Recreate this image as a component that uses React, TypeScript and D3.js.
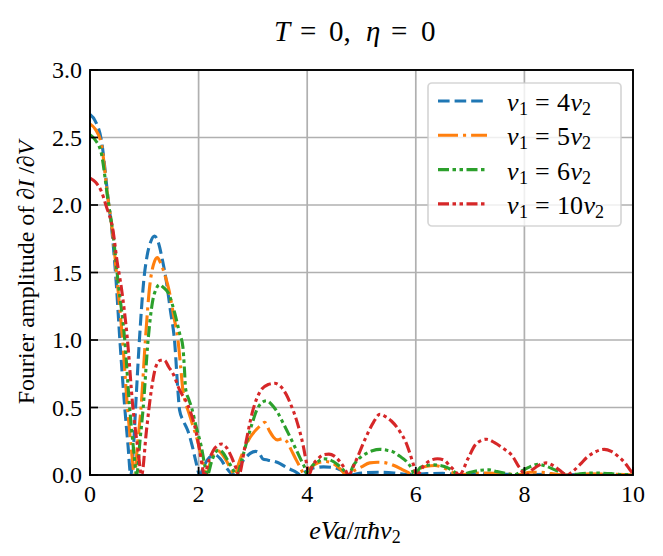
import * as d3 from "d3"

type Pt = [number, number]

// curves, [x, amplitude]
const seriesV4: Pt[] = [[0,2.67],[0.1,2.62],[0.21,2.48],[0.33,2.06],[0.42,1.74],[0.48,1.44],[0.55,1.0],[0.64,0.5],[0.7,0.22],[0.75,0],[0.8,0.2],[0.84,0.5],[0.91,1.0],[0.99,1.44],[1.05,1.62],[1.12,1.73],[1.19,1.77],[1.26,1.72],[1.33,1.6],[1.4,1.45],[1.48,1.22],[1.56,0.98],[1.62,0.62],[1.65,0.48],[1.72,0.4],[1.8,0.33],[1.88,0.22],[1.95,0.1],[2.02,0],[2.1,0.07],[2.2,0.13],[2.3,0.15],[2.4,0.12],[2.5,0.06],[2.58,0.02],[2.65,0],[2.75,0.07],[2.85,0.12],[2.95,0.16],[3.05,0.175],[3.12,0.16],[3.18,0.12],[3.28,0.11],[3.4,0.1],[3.5,0.085],[3.6,0.06],[3.7,0.04],[3.8,0.02],[3.88,0],[3.95,0.02],[4.1,0.05],[4.3,0.06],[4.5,0.055],[4.65,0.03],[4.78,0],[5.0,0.015],[5.3,0.02],[5.6,0.015],[5.9,0.003],[6.2,0.01],[6.5,0.012],[6.8,0.004],[7.2,0.008],[7.6,0.006],[8.0,0.002],[8.4,0.005],[8.8,0.002],[9.2,0.004],[9.6,0.003],[10,0.002]]

const seriesV5: Pt[] = [[0,2.6],[0.1,2.56],[0.21,2.45],[0.33,2.05],[0.42,1.78],[0.5,1.44],[0.6,1.0],[0.69,0.5],[0.76,0.2],[0.82,0],[0.88,0.25],[0.94,0.5],[1.02,1.0],[1.1,1.4],[1.17,1.56],[1.24,1.61],[1.3,1.57],[1.38,1.48],[1.46,1.36],[1.54,1.18],[1.62,1.0],[1.67,0.8],[1.71,0.63],[1.75,0.55],[1.82,0.46],[1.9,0.36],[1.99,0.24],[2.06,0.12],[2.14,0],[2.22,0.1],[2.3,0.17],[2.36,0.18],[2.44,0.15],[2.52,0.1],[2.6,0.04],[2.66,0],[2.75,0.1],[2.85,0.2],[2.95,0.28],[3.07,0.34],[3.15,0.37],[3.22,0.39],[3.3,0.33],[3.38,0.28],[3.45,0.26],[3.55,0.27],[3.62,0.25],[3.7,0.19],[3.8,0.11],[3.88,0.05],[3.95,0],[4.05,0.05],[4.2,0.09],[4.35,0.1],[4.5,0.08],[4.62,0.04],[4.72,0],[4.85,0.03],[5.0,0.06],[5.15,0.09],[5.3,0.095],[5.45,0.09],[5.6,0.07],[5.75,0.04],[5.9,0.01],[5.96,0],[6.05,0.04],[6.2,0.065],[6.35,0.07],[6.5,0.055],[6.65,0.025],[6.8,0],[7.0,0.01],[7.3,0.015],[7.6,0.01],[7.9,0.004],[8.1,0.02],[8.3,0.02],[8.5,0.01],[8.8,0],[9.2,0.008],[9.6,0.005],[10,0.002]]

const seriesV6: Pt[] = [[0,2.52],[0.1,2.48],[0.21,2.38],[0.33,2.04],[0.42,1.8],[0.52,1.42],[0.64,1.0],[0.73,0.5],[0.8,0.2],[0.86,0],[0.92,0.25],[0.98,0.5],[1.07,1.0],[1.15,1.28],[1.22,1.38],[1.28,1.41],[1.35,1.39],[1.44,1.35],[1.56,1.2],[1.65,1.05],[1.71,0.95],[1.74,0.78],[1.76,0.64],[1.82,0.56],[1.87,0.5],[1.96,0.35],[2.05,0.21],[2.12,0.06],[2.16,0],[2.24,0.1],[2.3,0.16],[2.36,0.185],[2.44,0.17],[2.52,0.12],[2.62,0.05],[2.7,0],[2.8,0.12],[2.91,0.28],[3.0,0.4],[3.07,0.48],[3.15,0.53],[3.25,0.55],[3.35,0.52],[3.46,0.46],[3.55,0.39],[3.65,0.31],[3.8,0.185],[3.9,0.1],[3.96,0.05],[4.0,0],[4.1,0.07],[4.2,0.1],[4.3,0.12],[4.4,0.115],[4.48,0.1],[4.58,0.07],[4.66,0.04],[4.76,0],[4.85,0.07],[4.95,0.12],[5.09,0.16],[5.2,0.18],[5.34,0.19],[5.45,0.185],[5.59,0.17],[5.7,0.14],[5.83,0.1],[5.92,0.05],[5.98,0],[6.08,0.055],[6.2,0.07],[6.33,0.075],[6.45,0.07],[6.58,0.055],[6.7,0.025],[6.8,0],[7.0,0.02],[7.2,0.035],[7.35,0.038],[7.5,0.025],[7.7,0.008],[7.8,0],[7.95,0.03],[8.1,0.06],[8.25,0.08],[8.4,0.065],[8.55,0.04],[8.7,0.015],[8.8,0],[9.0,0.008],[9.3,0.015],[9.6,0.01],[9.8,0.003],[10,0.005]]

const seriesV10: Pt[] = [[0,2.2],[0.1,2.17],[0.21,2.1],[0.3,1.99],[0.42,1.82],[0.5,1.58],[0.58,1.38],[0.69,1.0],[0.79,0.5],[0.88,0.2],[0.95,0],[1.04,0.33],[1.13,0.63],[1.22,0.81],[1.3,0.85],[1.37,0.85],[1.45,0.8],[1.53,0.75],[1.65,0.63],[1.8,0.52],[1.93,0.36],[2.02,0.18],[2.07,0.06],[2.1,0],[2.2,0.12],[2.3,0.2],[2.42,0.23],[2.52,0.2],[2.62,0.12],[2.7,0.04],[2.74,0],[2.85,0.2],[3.0,0.48],[3.15,0.63],[3.28,0.67],[3.4,0.68],[3.5,0.66],[3.61,0.6],[3.7,0.52],[3.8,0.41],[3.93,0.21],[4.0,0.06],[4.03,0],[4.1,0.07],[4.2,0.12],[4.3,0.15],[4.4,0.155],[4.5,0.14],[4.6,0.1],[4.7,0.04],[4.76,0],[4.88,0.09],[5.06,0.26],[5.22,0.39],[5.34,0.45],[5.45,0.43],[5.55,0.4],[5.71,0.32],[5.82,0.24],[5.9,0.15],[5.97,0.06],[6.02,0],[6.15,0.07],[6.28,0.11],[6.4,0.12],[6.52,0.11],[6.62,0.07],[6.72,0.03],[6.8,0],[6.96,0.12],[7.09,0.22],[7.2,0.255],[7.3,0.265],[7.45,0.24],[7.6,0.2],[7.78,0.14],[7.9,0.06],[8.03,0],[8.15,0.04],[8.28,0.075],[8.4,0.09],[8.53,0.07],[8.65,0.035],[8.78,0],[8.9,0.03],[9.03,0.08],[9.15,0.13],[9.3,0.17],[9.47,0.19],[9.6,0.175],[9.72,0.14],[9.85,0.09],[9.95,0.035],[10,0.01]]

const RATIOS = ["4", "5", "6", "10"]
const COLORS = ["#1f77b4", "#ff7f0e", "#2ca02c", "#d62728"]
const DASHES = ["11.6 5", "20 5 3.1 5", "11 3.5 3.5 3.5 3.5 3.5", "11 3.5 3.5 3.5 3.5 3.5"]
const X_TICKS = [0, 2, 4, 6, 8, 10]
const Y_TICKS = [0, 0.5, 1.0, 1.5, 2.0, 2.5, 3.0]

const W = 663
const H = 556
const M = { left: 90, right: 633, top: 70, bottom: 475 }
const FONT = "'Liberation Serif', 'DejaVu Serif', serif"
const FS = 24

export default function App() {
  const x = d3.scaleLinear().domain([0, 10]).range([M.left, M.right])
  const y = d3.scaleLinear().domain([0, 3]).range([M.bottom, M.top])
  const line = d3.line<Pt>()
    .x(d => x(d[0]))
    .y(d => y(d[1]))
    .curve(d3.curveMonotoneX)

  const all = [seriesV4, seriesV5, seriesV6, seriesV10]
  const fmt = d3.format(".1f")

  // legend box
  const lg = { x: 428, y: 83, w: 193, h: 143 }
  const rowY = (i: number) => 101 + i * 34.3

  return (
    <svg width={W} height={H} style={{ position: "absolute", left: 0, top: 0, background: "#fff" }}
      fontFamily={FONT}>
      <defs>
        <clipPath id="plot">
          <rect x={M.left} y={M.top} width={M.right - M.left} height={M.bottom - M.top} />
        </clipPath>
      </defs>

      {/* grid */}
      {X_TICKS.map(t => (
        <line key={"gx" + t} x1={x(t)} x2={x(t)} y1={M.top} y2={M.bottom} stroke="#b0b0b0" strokeWidth={1.7} />
      ))}
      {Y_TICKS.map(t => (
        <line key={"gy" + t} x1={M.left} x2={M.right} y1={y(t)} y2={y(t)} stroke="#b0b0b0" strokeWidth={1.7} />
      ))}

      {/* curves */}
      <g clipPath="url(#plot)">
        {all.map((s, i) => (
          <path key={i} d={line(s) || ""} fill="none" stroke={COLORS[i]} strokeWidth={3.1}
            strokeDasharray={DASHES[i]} />
        ))}
      </g>

      {/* ticks, inward */}
      {X_TICKS.map(t => (
        <g key={"tx" + t}>
          <line x1={x(t)} x2={x(t)} y1={M.bottom} y2={M.bottom - 8} stroke="#000" strokeWidth={1.7} />
          <text x={x(t)} y={502} textAnchor="middle" fontSize={FS}>{t}</text>
        </g>
      ))}
      {Y_TICKS.map(t => (
        <g key={"ty" + t}>
          <line x1={M.left} x2={M.left + 8} y1={y(t)} y2={y(t)} stroke="#000" strokeWidth={1.7} />
          <text x={82} y={y(t)} dy="0.34em" textAnchor="end" fontSize={FS}>{fmt(t)}</text>
        </g>
      ))}

      {/* frame */}
      <rect x={M.left} y={M.top} width={M.right - M.left} height={M.bottom - M.top}
        fill="none" stroke="#000" strokeWidth={1.9} />

      {/* legend */}
      <rect x={lg.x} y={lg.y} width={lg.w} height={lg.h} rx={4} fill="#fff" fillOpacity={0.8}
        stroke="#cccccc" strokeOpacity={0.8} strokeWidth={1.7} />
      {RATIOS.map((r, i) => (
        <g key={"lg" + r}>
          <line x1={438} x2={487} y1={rowY(i)} y2={rowY(i)} stroke={COLORS[i]} strokeWidth={3.1}
            strokeDasharray={DASHES[i]} />
          <text y={rowY(i) + 10} fontSize={26}>
            <tspan x={507} fontStyle="italic">v</tspan>
            <tspan x={519} fontSize={18} dy={4}>1</tspan>
            <tspan x={535} dy={-4}>=</tspan>
            <tspan x={557}>{r}</tspan>
            <tspan dx={0.5} fontStyle="italic">v</tspan>
            <tspan fontSize={18} dy={4}>2</tspan>
          </text>
        </g>
      ))}

      {/* title */}
      <text y={41} fontSize={29}>
        <tspan x={274} fontStyle="italic">T</tspan>
        <tspan x={300}>=</tspan>
        <tspan x={329}>0,</tspan>
        <tspan x={366} fontStyle="italic">η</tspan>
        <tspan x={391}>=</tspan>
        <tspan x={421}>0</tspan>
      </text>

      {/* x label */}
      <text x={355} y={539} textAnchor="middle" fontSize={26}>
        <tspan fontStyle="italic">eVa</tspan>/<tspan fontStyle="italic">πħv</tspan>
        <tspan fontSize={18} dy={4}>2</tspan>
      </text>

      {/* y label */}
      <text transform={`translate(34,${(M.top + M.bottom) / 2}) rotate(-90)`} textAnchor="middle" fontSize={FS}>
        Fourier amplitude of ∂<tspan fontStyle="italic">I</tspan> /∂<tspan fontStyle="italic">V</tspan>
      </text>
    </svg>
  )
}
